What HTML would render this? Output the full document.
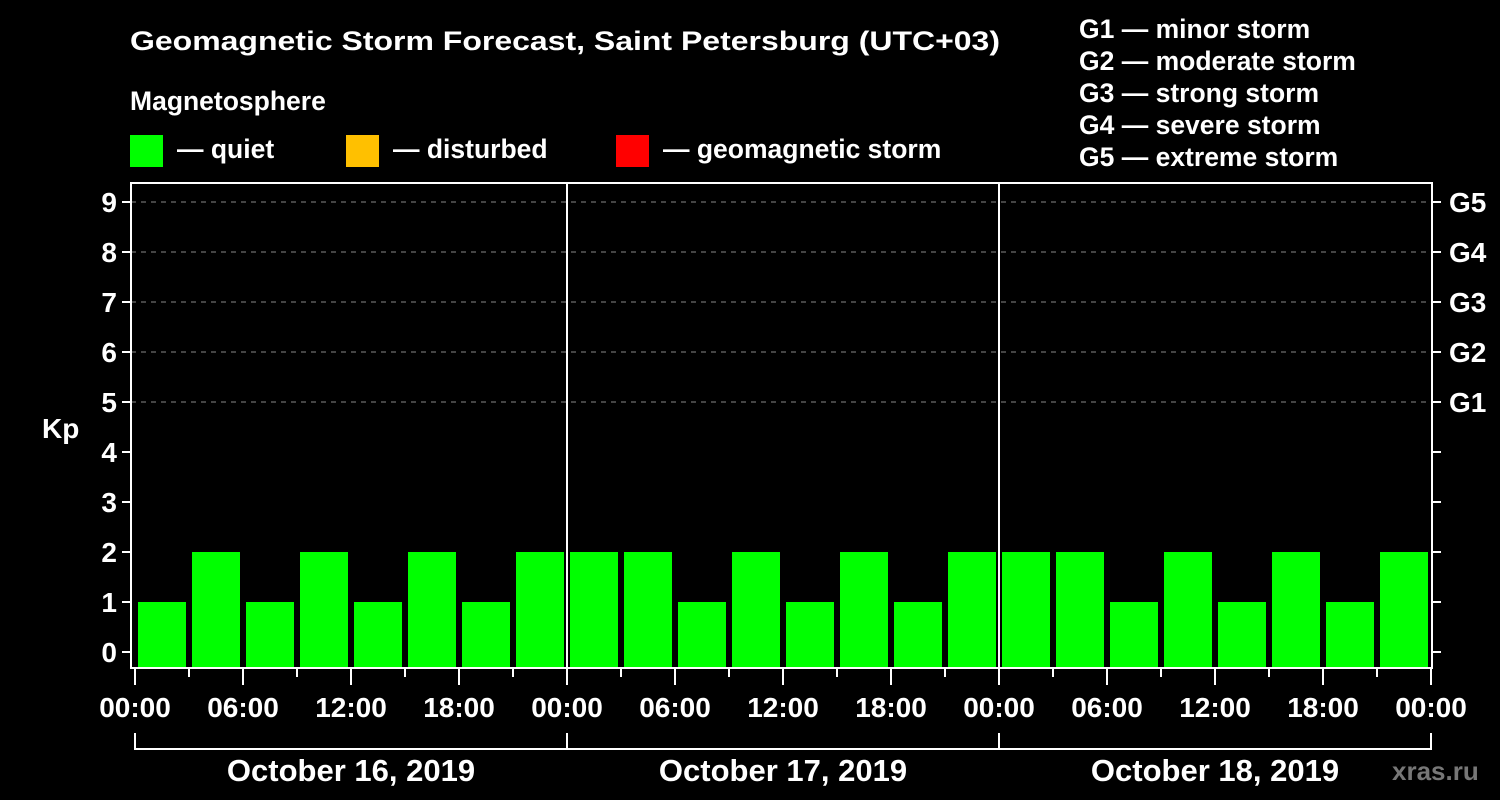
<!DOCTYPE html>
<html><head><meta charset="utf-8"><style>
html,body{margin:0;padding:0;background:#000;width:1500px;height:800px;overflow:hidden}
svg{display:block}
text{font-family:"Liberation Sans",Arial,sans-serif;font-weight:bold;fill:#fff}
</style></head><body>
<svg id="chart" width="1500" height="800" viewBox="0 0 1500 800">
<rect width="1500" height="800" fill="#000"/>
<text x="130" y="50" font-size="27" textLength="870" lengthAdjust="spacingAndGlyphs">Geomagnetic Storm Forecast, Saint Petersburg (UTC+03)</text>
<text x="130" y="110" font-size="26.5">Magnetosphere</text>
<g><rect x="130" y="135" width="33" height="32" fill="#00ff00"/><text x="177" y="158" font-size="26.5">— quiet</text></g>
<g><rect x="346" y="135" width="33" height="32" fill="#ffc000"/><text x="393" y="158" font-size="26.5">— disturbed</text></g>
<g><rect x="616" y="135" width="33" height="32" fill="#ff0000"/><text x="663" y="158" font-size="26.5">— geomagnetic storm</text></g>
<g font-size="26.5">
<text x="1079" y="38">G1 — minor storm</text>
<text x="1079" y="70">G2 — moderate storm</text>
<text x="1079" y="102">G3 — strong storm</text>
<text x="1079" y="134">G4 — severe storm</text>
<text x="1079" y="166">G5 — extreme storm</text>
</g>
<text x="42" y="438" font-size="28">Kp</text>
<g id="grid"></g>
<g id="bars"></g>
<g id="axes"></g>
<text x="1392" y="780" font-size="26" style="fill:#777">xras.ru</text>
</svg>
<script>
const kpValues = [1,2,1,2,1,2,1,2, 2,2,1,2,1,2,1,2, 2,2,1,2,1,2,1,2];
const yTicks = [0,1,2,3,4,5,6,7,8,9];
const gLabels = ["G1","G2","G3","G4","G5"];
const gLevels = [5,6,7,8,9];
const dayLabels = ["October 16, 2019","October 17, 2019","October 18, 2019"];
const hourLabels = ["00:00","06:00","12:00","18:00"];

const NS="http://www.w3.org/2000/svg";
const X0=135, PXH=18, Y0=652, PXU=50, LEFT=131, RIGHT=1432, TOP=183, BOTTOM=668;
const xs=h=>X0+h*PXH, ys=v=>Y0-v*PXU;
function mk(parent,tag,attrs){const e=document.createElementNS(NS,tag);for(const k in attrs)e.setAttribute(k,attrs[k]);document.getElementById(parent).appendChild(e);return e;}

for(const v of gLevels){
  const l=mk('grid','line',{x1:LEFT,x2:RIGHT,y1:ys(v),y2:ys(v),stroke:'#888','stroke-dasharray':'5,5','stroke-width':1});
  
  
}
kpValues.forEach((v,i)=>{
  const x=xs(i*3)+3, w=3*PXH-6;
  const r=mk('bars','rect',{x:x,y:ys(v),width:w,height:BOTTOM-ys(v),fill:v>=5?'#ff0000':(v>=4?'#ffc000':'#00ff00')});
  
  
});
const fr=mk('axes','rect',{x:LEFT,y:TOP,width:RIGHT-LEFT,height:BOTTOM-TOP,fill:'none',stroke:'#fff','stroke-width':2});


for(let d=1;d<dayLabels.length;d++){
  const l=mk('axes','line',{x1:xs(d*24),x2:xs(d*24),y1:TOP,y2:BOTTOM,stroke:'#fff','stroke-width':2});
  
  
}
for(const v of yTicks){
  const t=mk('axes','line',{x1:LEFT-9,x2:LEFT,y1:ys(v),y2:ys(v),stroke:'#fff','stroke-width':2});
  
  
  const t2=mk('axes','line',{x1:RIGHT,x2:RIGHT+9,y1:ys(v),y2:ys(v),stroke:'#fff','stroke-width':2});
  
  
  const tx=mk('axes','text',{x:LEFT-14,y:ys(v)+10,'font-size':28,'text-anchor':'end'});
  tx.textContent=v;
  
  
}
gLabels.forEach((g,i)=>{
  const tx=mk('axes','text',{x:RIGHT+17,y:ys(gLevels[i])+10,'font-size':28});
  tx.textContent=g;
  
  
});
const totalH=dayLabels.length*24;
for(let h=0;h<=totalH;h+=3){
  const major=h%6===0;
  const t=mk('axes','line',{x1:xs(h),x2:xs(h),y1:BOTTOM,y2:BOTTOM+(major?17:9),stroke:'#fff','stroke-width':2});
  
  
  if(major){
    const tx=mk('axes','text',{x:xs(h),y:717,'font-size':28,'text-anchor':'middle'});
    tx.textContent=hourLabels[(h/6)%4];
    
    
  }
}
dayLabels.forEach((d,i)=>{
  const a=xs(i*24), b=xs((i+1)*24);
  const p=mk('axes','path',{d:`M${a} 733 V749 H${b} V733`,fill:'none',stroke:'#fff','stroke-width':2});
  
  
  const tx=mk('axes','text',{x:(a+b)/2,y:781,'font-size':31,'text-anchor':'middle'});
  tx.textContent=d;
  
  
});
</script>
</body></html>
